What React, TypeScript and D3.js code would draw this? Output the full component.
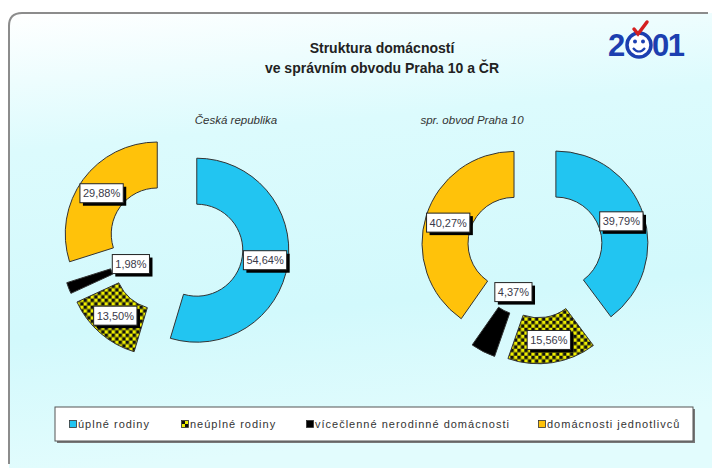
import React from 'react';
import * as d3 from 'd3';

// household structure, Czech Republic vs. Prague 10 administrative district (census 2001)
const categories = [
  'úplné rodiny',
  'neúplné rodiny',
  'vícečlenné nerodinné domácnosti',
  'domácnosti jednotlivců',
];
const crValues = [54.64, 13.5, 1.98, 29.88];
const prahaValues = [39.79, 15.56, 4.37, 40.27];
const pieTitles = ['Česká republika', 'spr. obvod Praha 10'];
const titleLines = ['Struktura domácností', 've správním obvodu Praha 10 a ČR'];

const W = 712;
const H = 468;
const FONT = 'Liberation Sans, Arial, sans-serif';

const fills = ['#22c5f1', 'url(#checker)', '#000000', '#ffc20a'];

const fmt = (v: number) => d3.format('.2f')(v).replace('.', ',') + '%';

function textWidth(s: string, font: string) {
  const c = document.createElement('canvas').getContext('2d');
  if (!c) return s.length * 6;
  c.font = font;
  return c.measureText(s).width;
}

function Donut({
  values,
  cx,
  cy,
  title,
  titleX,
}: {
  values: number[];
  cx: number;
  cy: number;
  title: string;
  titleX: number;
}) {
  const outer = 92;
  const inner = 46;
  const explode = 22;
  const pie = d3.pie<number>().sort(null).startAngle(0).endAngle(2 * Math.PI);
  const arc = d3.arc<d3.PieArcDatum<number>>().innerRadius(inner).outerRadius(outer);
  const arcs = pie(values);

  return (
    <g>
      <text
        x={titleX}
        y={124}
        textAnchor="middle"
        fontFamily={FONT}
        fontStyle="italic"
        fontSize={11.5}
        fill="#333"
      >
        {title}
      </text>
      {arcs.map((a, i) => {
        const mid = (a.startAngle + a.endAngle) / 2;
        const dx = Math.sin(mid) * explode;
        const dy = -Math.cos(mid) * explode;
        return (
          <path
            key={i}
            d={arc(a) || ''}
            transform={`translate(${cx + dx},${cy + dy})`}
            fill={fills[i]}
            stroke="#333"
            strokeWidth={1}
          />
        );
      })}
      {arcs.map((a, i) => {
        const mid = (a.startAngle + a.endAngle) / 2;
        // the thin slices get their label pulled in towards the hole
        const lr = a.data < 5 ? inner * 0.55 : (inner + outer) / 2;
        const x = cx + Math.sin(mid) * (explode + lr);
        const y = cy - Math.cos(mid) * (explode + lr);
        const label = fmt(a.data);
        const tw = textWidth(label, `11px ${FONT}`);
        const bw = tw + 6;
        const bh = 19;
        return (
          <g key={'l' + i} transform={`translate(${x},${y})`}>
            <rect x={-bw / 2 + 3} y={-bh / 2 + 3} width={bw} height={bh} fill="#000" />
            <rect x={-bw / 2} y={-bh / 2} width={bw} height={bh} fill="#fff" stroke="#222" strokeWidth={1} />
            <text textAnchor="middle" dy="0.36em" fontFamily={FONT} fontSize={11} fill="#3a3a4a">
              {label}
            </text>
          </g>
        );
      })}
    </g>
  );
}

function Logo({ x, y }: { x: number; y: number }) {
  const blue = '#1c3fb0';
  return (
    <g transform={`translate(${x},${y})`}>
      <text x={0} y={32} fontFamily={FONT} fontWeight="bold" fontSize={31} fill={blue} letterSpacing={-1}>
        2
      </text>
      <circle cx={31} cy={21} r={12} fill="#fff" stroke={blue} strokeWidth={3.5} />
      <circle cx={27} cy={17.5} r={2} fill={blue} />
      <circle cx={35} cy={17.5} r={2} fill={blue} />
      <path d="M25,24 Q31,31 37,24" fill="none" stroke={blue} strokeWidth={2.2} />
      <path d="M26,5 L30,10 L39,-2" fill="none" stroke="#d42020" strokeWidth={3.5} strokeLinecap="round" />
      <text x={44} y={32} fontFamily={FONT} fontWeight="bold" fontSize={31} fill={blue} letterSpacing={-1.5}>
        01
      </text>
    </g>
  );
}

export default function App() {
  const legendX = [73, 185, 310, 542];
  return (
    <svg
      width={W}
      height={H}
      style={{ position: 'absolute', left: 0, top: 0, background: '#fff' }}
    >
      <defs>
        <linearGradient id="bg" x1="0" y1="0" x2="0.15" y2="1">
          <stop offset="0" stopColor="#ffffff" />
          <stop offset="0.3" stopColor="#dcfbfd" />
          <stop offset="0.7" stopColor="#d2f9fc" />
          <stop offset="1" stopColor="#e2fcfd" />
        </linearGradient>
        <pattern id="checker" width={7} height={7} patternUnits="userSpaceOnUse">
          <rect width={7} height={7} fill="#f0f000" />
          <rect width={3.5} height={3.5} fill="#111" />
          <rect x={3.5} y={3.5} width={3.5} height={3.5} fill="#111" />
        </pattern>
      </defs>

      <path d={`M9,${H} L9,26 Q9,13 22,13 L${W},13 L${W},${H} Z`} fill="url(#bg)" />
      <path
        d={`M9,${H - 4} L9,26 Q9,13 22,13 L${W - 4},13`}
        fill="none"
        stroke="#8c8c8c"
        strokeWidth={2}
      />

      {titleLines.map((t, i) => (
        <text
          key={t}
          x={382}
          y={53 + i * 20}
          textAnchor="middle"
          fontFamily={FONT}
          fontWeight="bold"
          fontSize={14}
          fill="#222"
        >
          {t}
        </text>
      ))}

      <Logo x={608} y={24} />

      <Donut values={crValues} cx={175} cy={247} title={pieTitles[0]} titleX={236} />
      <Donut values={prahaValues} cx={535} cy={250} title={pieTitles[1]} titleX={472} />

      <rect x={57} y={409} width={638} height={34} fill="#777" />
      <rect x={55} y={407} width={638} height={34} fill="#fff" stroke="#555" strokeWidth={1} />
      {categories.map((c, i) => (
        <g key={c} transform={`translate(${legendX[i]},424)`}>
          <rect x={-3.5} y={-3.5} width={7} height={7} fill={fills[i]} stroke="#333" strokeWidth={0.8} />
          <text x={5} dy="0.35em" fontFamily={FONT} fontSize={11} letterSpacing={1} fill="#333">
            {c}
          </text>
        </g>
      ))}
    </svg>
  );
}
